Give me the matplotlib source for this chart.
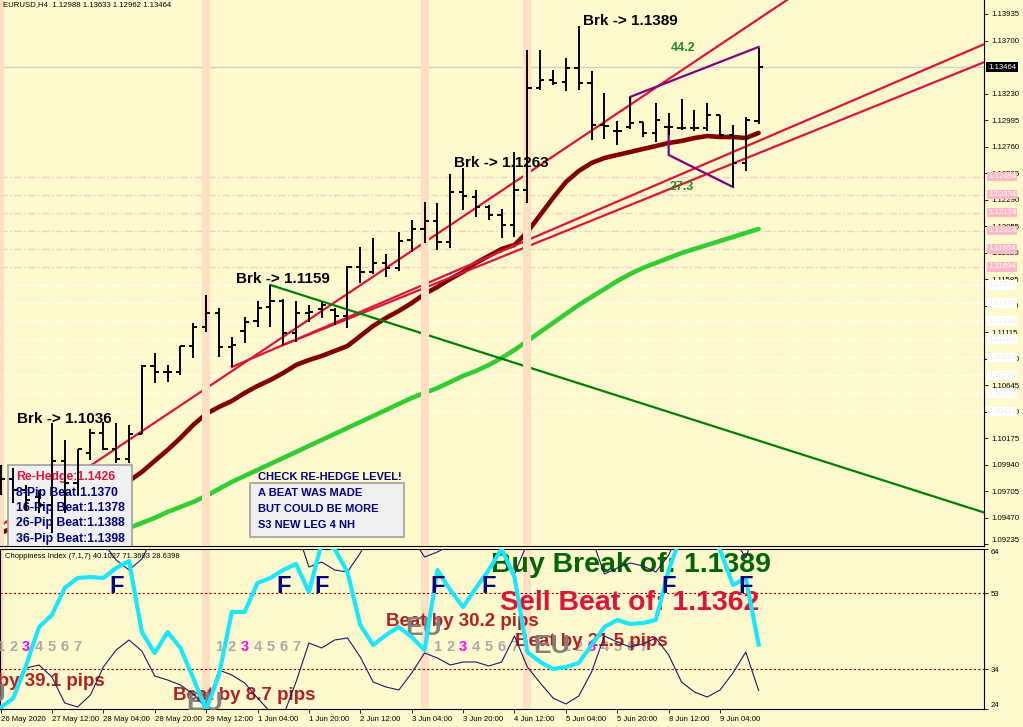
import matplotlib.pyplot as plt
import numpy as np
from matplotlib.patches import Rectangle
from matplotlib.transforms import blended_transform_factory

plt.rcParams['font.family'] = ['Liberation Sans', 'DejaVu Sans']

BG = '#FFFACD'
BAND = '#FFDFC4'

# EURUSD H4 bars (26 May 2020 16:00 .. 9 Jun 2020 16:00)
bar_open = [1.09806, 1.09815, 1.09718, 1.09656, 1.09585, 1.09975, 1.09780, 1.10045, 1.10223, 1.10081,
            1.09992, 1.10214, 1.10816, 1.10763, 1.10763, 1.10993, 1.11162, 1.11286, 1.10985, 1.11126,
            1.11215, 1.11339, 1.11392, 1.11109, 1.11286, 1.11321, 1.11312, 1.11259, 1.11693, 1.11649,
            1.11729, 1.11685, 1.11933, 1.12030, 1.12101, 1.11915, 1.12358, 1.12314, 1.12225, 1.12154,
            1.12065, 1.12376, 1.13279, 1.13350, 1.13332, 1.13457, 1.13324, 1.12951, 1.12898, 1.12934,
            1.12978, 1.12881, 1.12934, 1.12925, 1.12925, 1.12925, 1.13040, 1.12863, 1.12615, 1.12988]
bar_high = [1.09939, 1.09913, 1.09762, 1.09718, 1.10311, 1.10161, 1.10081, 1.10258, 1.10320, 1.10311,
            1.10293, 1.10825, 1.10931, 1.10825, 1.10993, 1.11197, 1.11445, 1.11330, 1.11073, 1.11250,
            1.11392, 1.11534, 1.11410, 1.11392, 1.11357, 1.11383, 1.11330, 1.11702, 1.11871, 1.11950,
            1.11809, 1.12003, 1.12110, 1.12269, 1.12260, 1.12517, 1.12571, 1.12376, 1.12243, 1.12207,
            1.12712, 1.13616, 1.13616, 1.13439, 1.13545, 1.13829, 1.13430, 1.13235, 1.12987, 1.13200,
            1.12978, 1.13146, 1.13058, 1.13182, 1.13084, 1.13146, 1.13040, 1.12951, 1.13022, 1.13633]
bar_low = [1.09673, 1.09602, 1.09540, 1.09514, 1.09337, 1.09514, 1.09673, 1.09983, 1.10072, 1.09957,
           1.09957, 1.10214, 1.10666, 1.10674, 1.10736, 1.10887, 1.11117, 1.10896, 1.10807, 1.11020,
           1.11162, 1.11162, 1.11002, 1.11029, 1.11206, 1.11242, 1.11179, 1.11153, 1.11552, 1.11631,
           1.11605, 1.11658, 1.11826, 1.11906, 1.11844, 1.11862, 1.12198, 1.12136, 1.12110, 1.11950,
           1.11959, 1.12260, 1.13262, 1.13306, 1.13253, 1.13262, 1.12819, 1.12827, 1.12774, 1.12916,
           1.12845, 1.12801, 1.12863, 1.12907, 1.12898, 1.12898, 1.12845, 1.12402, 1.12544, 1.12962]
bar_close = [1.09815, 1.09718, 1.09629, 1.09585, 1.09975, 1.09780, 1.10081, 1.10223, 1.10081, 1.09992,
             1.10214, 1.10816, 1.10763, 1.10763, 1.10993, 1.11162, 1.11286, 1.10985, 1.11002, 1.11206,
             1.11330, 1.11392, 1.11109, 1.11286, 1.11295, 1.11357, 1.11259, 1.11693, 1.11649, 1.11729,
             1.11685, 1.11924, 1.12030, 1.12101, 1.11915, 1.12358, 1.12322, 1.12225, 1.12154, 1.12065,
             1.12376, 1.13279, 1.13350, 1.13324, 1.13457, 1.13324, 1.12951, 1.12943, 1.12898, 1.12969,
             1.12881, 1.12996, 1.12934, 1.12925, 1.12925, 1.13040, 1.12863, 1.12615, 1.12996, 1.13464]

# moving averages
ma_red = [1.09337, 1.09381, 1.09417, 1.09461, 1.09514, 1.09558, 1.09602, 1.09647, 1.09700, 1.09744,
          1.09797, 1.09877, 1.09975, 1.10072, 1.10178, 1.10294, 1.10391, 1.10453, 1.10506, 1.10577,
          1.10639, 1.10692, 1.10754, 1.10825, 1.10869, 1.10905, 1.10949, 1.10993, 1.11082, 1.11171,
          1.11242, 1.11304, 1.11374, 1.11454, 1.11516, 1.11587, 1.11649, 1.11729, 1.11791, 1.11853,
          1.11888, 1.12003, 1.12154, 1.12305, 1.12446, 1.12544, 1.12615, 1.12659, 1.12686, 1.12712,
          1.12739, 1.12765, 1.12792, 1.12810, 1.12836, 1.12854, 1.12845, 1.12845, 1.12836, 1.12881]
ma_green_start = 8
ma_green = [1.09266, 1.09319, 1.09381, 1.09425, 1.09470, 1.09523, 1.09567, 1.09611, 1.09665, 1.09727,
            1.09789, 1.09842, 1.09895, 1.09948, 1.10001, 1.10054, 1.10108, 1.10161, 1.10214, 1.10267,
            1.10320, 1.10373, 1.10426, 1.10480, 1.10533, 1.10577, 1.10621, 1.10674, 1.10728, 1.10772,
            1.10825, 1.10887, 1.10958, 1.11038, 1.11117, 1.11197, 1.11277, 1.11357, 1.11428, 1.11498,
            1.11569, 1.11631, 1.11685, 1.11729, 1.11773, 1.11817, 1.11853, 1.11888, 1.11924, 1.11959,
            1.11995, 1.12030]

# choppiness index (7,1,7): main line and lower band (upper band = 100 - lower)
chop_main = [24.25, 26.75, 35.0, 44.5, 47.5, 54.25, 56.75, 57.0, 56.75, 59.25,
             61.0, 43.25, 38.0, 43.25, 39.25, 31.75, 23.75, 32.5, 48.25, 48.25,
             55.5, 56.75, 58.75, 60.25, 53.25, 65.5, 64.0, 58.25, 45.0, 40.0,
             42.5, 44.5, 42.0, 38.75, 58.75, 53.75, 49.5, 54.25, 58.75, 64.0,
             57.0, 38.25, 35.75, 34.0, 34.5, 35.5, 40.0, 44.5, 46.25, 45.25,
             45.5, 46.25, 58.75, 67.5, 68.75, 67.5, 63.75, 55.0, 56.75, 40.10]
chop_low = [24.5, 27.0, 34.25, 35.0, 32.0, 25.5, 24.5, 27.5, 34.5, 38.75,
            41.25, 38.5, 32.25, 31.25, 30.0, 27.75, 24.25, 33.75, 32.5, 30.5,
            26.75, 23.25, 22.25, 30.75, 40.5, 39.25, 41.25, 41.75, 37.0, 30.75,
            29.5, 28.75, 33.0, 38.0, 36.75, 35.0, 35.75, 35.75, 34.75, 35.75,
            42.25, 34.5, 30.5, 26.75, 25.25, 27.25, 33.25, 42.25, 40.75, 39.5,
            40.25, 41.75, 37.5, 30.75, 28.25, 27.0, 28.75, 33.0, 38.25, 28.64]

# trend lines: (bar, price) anchors, drawn as rays to the right
steep_line = [(0, 1.09400), (61.2, 1.14059)]
upper_line = [(18, 1.10807), (76.4, 1.13660)]
lower_line = [(22, 1.11002), (76.4, 1.13501)]
down_line = [(21, 1.11534), (79.6, 1.09407)]

pink_levels = [1.12494, 1.12334, 1.12174, 1.12014, 1.11854, 1.11694]
white_levels = [1.11534, 1.11374, 1.11214, 1.11054, 1.10894, 1.10734, 1.10574, 1.10414]
price_ticks = [1.13935, 1.13700, 1.13230, 1.12995, 1.12760, 1.12525, 1.12290, 1.12055, 1.11820, 1.11585,
               1.11350, 1.11115, 1.10880, 1.10645, 1.10410, 1.10175, 1.09940, 1.09705, 1.09470, 1.09235]
last_price = 1.13464
band_bars = [0, 16, 33, 41]

time_ticks = [0, 4, 8, 12, 16, 20, 24, 28, 32, 36, 40, 44, 48, 52, 56]
time_labels = ['26 May 2020', '27 May 12:00', '28 May 04:00', '28 May 20:00', '29 May 12:00',
               '1 Jun 04:00', '1 Jun 20:00', '2 Jun 12:00', '3 Jun 04:00', '3 Jun 20:00',
               '4 Jun 12:00', '5 Jun 04:00', '5 Jun 20:00', '8 Jun 12:00', '9 Jun 04:00']

XMIN, XMAX = -0.04, 76.54

fig = plt.figure(figsize=(10.23, 7.27), dpi=100, facecolor=BG)
ax = fig.add_axes([0, 181 / 727, 984 / 1023, 546 / 727], facecolor=BG)
axc = fig.add_axes([0, 18 / 727, 984 / 1023, 160 / 727], facecolor=BG)


def ray(pts, x_end=XMAX + 5):
    (x0, y0), (x1, y1) = pts
    k = (y1 - y0) / (x1 - x0)
    return [x0, x_end], [y0, y0 + k * (x_end - x0)]


# ---------------- main price panel ----------------
for lv in pink_levels:
    ax.axhline(lv, color='#FFC8D0', lw=1, dashes=(5, 2, 1, 2), zorder=1)
for lv in white_levels:
    ax.axhline(lv, color='white', lw=1, dashes=(5, 2, 1, 2), zorder=1)
ax.axhline(last_price, color='#CFCFCF', lw=1, zorder=1)

x = np.arange(len(bar_open))
ax.plot(x, ma_red, color='#800000', lw=3.3, solid_capstyle='round', zorder=3)
ax.plot(np.arange(ma_green_start, ma_green_start + len(ma_green)), ma_green,
        color='#32CD32', lw=3.3, solid_capstyle='round', zorder=3)

for pts in (steep_line, upper_line, lower_line):
    ax.plot(*ray(pts), color='#DC143C', lw=1.6, zorder=3)
ax.plot(*ray(down_line), color='#008000', lw=1.6, zorder=3)

# purple range marker
ax.plot([49, 49, 59], [1.13140, 1.13200, 1.13643], color='#800080', lw=1.6, zorder=3)
ax.plot([52, 52, 57], [1.12934, 1.12686, 1.12402], color='#800080', lw=1.6, zorder=3)
ax.text(53.1, 1.13634, '44.2', color='#228B22', fontsize=9, fontweight='bold',
        ha='center', va='center', zorder=8)
ax.text(53.0, 1.12402, '27.3', color='#228B22', fontsize=9, fontweight='bold',
        ha='center', va='center', zorder=8)

for b in band_bars:
    ax.axvspan(b - 0.31, b + 0.31, color=BAND, lw=0, zorder=4)
    axc.axvspan(b - 0.31, b + 0.31, color=BAND, lw=0, zorder=0)

# info boxes
ax.add_patch(Rectangle((0.58, 1.09213), 9.65, 0.00726, fc='#F0F0F0', ec='#A0A0A0', lw=1.2, zorder=5))
box_lines = ['Re-Hedge:1.1426', '8-Pip Beat:1.1370', '16-Pip Beat:1.1378',
             '26-Pip Beat:1.1388', '36-Pip Beat:1.1398']
box_y = [1.09833, 1.09691, 1.09558, 1.09425, 1.09283]
for txt, yy in zip(box_lines, box_y):
    ax.text(1.21, yy, txt, color='#DC143C' if txt.startswith('Re') else '#000080',
            fontsize=8.8, fontweight='bold', va='center', zorder=6)

ax.add_patch(Rectangle((19.42, 1.09301), 11.98, 0.00479, fc='#F0F0F0', ec='#A0A0A0', lw=1.2, zorder=5))
ax.text(20.04, 1.09833, 'CHECK RE-HEDGE LEVEL!', color='#000080', fontsize=8,
        fontweight='bold', va='center', zorder=6)
for txt, yy in zip(['A BEAT WAS MADE', 'BUT COULD BE MORE', 'S3 NEW LEG 4 NH'],
                   [1.09691, 1.09549, 1.09408]):
    ax.text(20.04, yy, txt, color='#000080', fontsize=8, fontweight='bold', va='center', zorder=6)

# OHLC bars
ax.vlines(x, bar_low, bar_high, color='black', lw=1.4, zorder=7)
ax.hlines(bar_open, x - 0.33, x, color='black', lw=1.4, zorder=7)
ax.hlines(bar_close, x, x + 0.33, color='black', lw=1.4, zorder=7)

for xx, yy, txt in [(4.95, 1.10347, 'Brk -> 1.1036'), (21.98, 1.11587, 'Brk -> 1.1159'),
                    (38.95, 1.12615, 'Brk -> 1.1263'), (48.99, 1.13873, 'Brk -> 1.1389')]:
    ax.text(xx, yy, txt, fontsize=11, fontweight='bold', ha='center', va='center', zorder=8)

ax.text(0.003, 0.991, 'EURUSD,H4  1.12988 1.13633 1.12962 1.13464', transform=ax.transAxes,
        fontsize=5.6, va='center', zorder=8)

ax.set_xlim(XMIN, XMAX)
ax.set_ylim(1.09221, 1.14059)
ax.set_xticks([])
ax.yaxis.tick_right()
ax.set_yticks(price_ticks)
ax.set_yticklabels([f'{p:.5f}' for p in price_ticks])
ax.tick_params(axis='y', labelsize=5.6, length=3, width=0.6, pad=2)
ax.get_yticklabels()[-1].set_va('bottom')
for s in ('left', 'top'):
    ax.spines[s].set_visible(False)
ax.spines['right'].set_linewidth(0.8)
ax.spines['bottom'].set_linewidth(0.8)

tr = blended_transform_factory(ax.transAxes, ax.transData)
for lv in pink_levels:
    ax.text(1.004, lv, f'{lv:.5f}', transform=tr, fontsize=5.6, color='white', va='center',
            bbox=dict(boxstyle='square,pad=0.15', fc='#FFB8C4', ec='none'), clip_on=False, zorder=10)
for lv in white_levels:
    ax.text(1.004, lv, f'{lv:.5f}', transform=tr, fontsize=5.6, color='#EDEDED', va='center',
            bbox=dict(boxstyle='square,pad=0.15', fc='white', ec='none'), clip_on=False, zorder=10)
ax.text(1.004, last_price, f'{last_price:.5f}', transform=tr, fontsize=5.6, color='white', va='center',
        bbox=dict(boxstyle='square,pad=0.2', fc='black', ec='none'), clip_on=False, zorder=10)

# ---------------- choppiness panel ----------------
axc.axhline(53, color='#8B0000', lw=0.8, dashes=(2, 2), zorder=1)
axc.axhline(34, color='#8B0000', lw=0.8, dashes=(2, 2), zorder=1)
chop_low = np.array(chop_low)
axc.plot(x, chop_low, color='#191970', lw=0.8, zorder=5)
axc.plot(x, 100 - chop_low, color='#191970', lw=0.8, zorder=5)
axc.plot(x, chop_main, color='#19E6FF', lw=3, zorder=5.5)

axc.text(0.005, 0.955, 'Choppiness Index (7,1,7) 40.1027 71.3603 28.6398', transform=axc.transAxes,
         fontsize=5.5, va='center', zorder=8)

beat_color = '#B22222'
axc.text(8.13, 30.75, 'Beat by 39.1 pips', color=beat_color, fontsize=13.5, fontweight='bold',
         ha='right', va='center', zorder=4)
axc.text(18.99, 27.25, 'Beat by 8.7 pips', color=beat_color, fontsize=13.5, fontweight='bold',
         ha='center', va='center', zorder=4)
axc.text(35.95, 46.0, 'Beat by 30.2 pips', color=beat_color, fontsize=13.5, fontweight='bold',
         ha='center', va='center', zorder=4)
axc.text(45.99, 40.75, 'Beat by 21.5 pips', color=beat_color, fontsize=13.5, fontweight='bold',
         ha='center', va='center', zorder=4)

for start in [0, 17, 34, 44]:
    for k in range(7):
        axc.text(start + k, 39.5, str(k + 1), color='#FF00FF' if k == 2 else '#A9A9A9',
                 fontsize=10.5, fontweight='bold', ha='center', va='center',
                 zorder=4.5 if k == 2 else 3.5)

for xx, yy in [(-0.97, 27.5), (15.9, 25.5), (32.96, 44.25), (42.92, 39.75)]:
    axc.text(xx, yy, 'EU', color='#808080', fontsize=19, fontweight='bold',
             ha='center', va='center', zorder=4.8)

for b in [9, 22, 25, 34, 38, 52, 58]:
    axc.text(b, 54.6, 'F', color='#000080', fontsize=17, fontweight='bold',
             ha='center', va='center', zorder=10)

axc.text(49.07, 60.0, 'Buy Break of: 1.1389', color='#006400', fontsize=20.5, fontweight='bold',
         ha='center', va='center', zorder=4)
axc.text(48.99, 50.5, 'Sell Beat of: 1.1362', color='#DC143C', fontsize=20.5, fontweight='bold',
         ha='center', va='center', zorder=4)

axc.set_xlim(XMIN, XMAX)
axc.set_ylim(24, 64)
axc.yaxis.tick_right()
axc.set_yticks([24, 34, 53, 64])
axc.set_yticklabels(['24', '34', '53', '64'])
axc.tick_params(axis='y', labelsize=5.6, length=3, width=0.6, pad=2)
ylbl = axc.get_yticklabels()
ylbl[0].set_va('bottom')
ylbl[-1].set_va('top')
axc.set_xticks(time_ticks)
axc.set_xticklabels(time_labels)
axc.tick_params(axis='x', labelsize=5.6, length=3, width=0.6, pad=2)
for lbl in axc.get_xticklabels():
    lbl.set_ha('left')
for s in axc.spines.values():
    s.set_linewidth(0.8)

fig.savefig('out.png', dpi=100, facecolor=BG)
